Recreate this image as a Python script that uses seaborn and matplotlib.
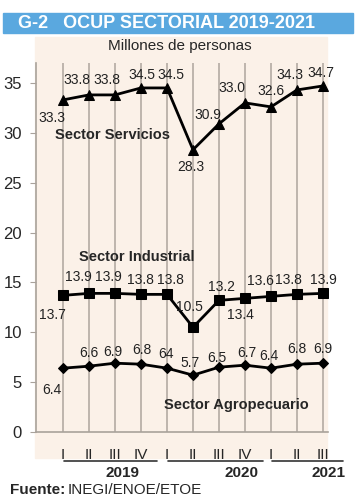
import matplotlib
matplotlib.use("Agg")
import matplotlib.pyplot as plt
import matplotlib.patches as mpatches
import matplotlib.transforms as mtransforms
from matplotlib import font_manager
import seaborn as sns
import pandas as pd

# data
quarters = ["I", "II", "III", "IV", "I", "II", "III", "IV", "I", "II", "III"]
years = ["2019", "2020", "2021"]
servicios = [33.3, 33.8, 33.8, 34.5, 34.5, 28.3, 30.9, 33.0, 32.6, 34.3, 34.7]
industrial = [13.7, 13.9, 13.9, 13.8, 13.8, 10.5, 13.2, 13.4, 13.6, 13.8, 13.9]
agropecuario = [6.4, 6.6, 6.9, 6.8, 6.4, 5.7, 6.5, 6.7, 6.4, 6.8, 6.9]
agro_labels = ["6.4", "6.6", "6.9", "6.8", "64", "5.7", "6.5", "6.7", "6.4", "6.8", "6.9"]

# label offsets in pixels
serv_off = [(-11, -18), (-12, 15), (-8, 15), (1, 13), (4, 13), (-2, -17),
            (-11, 9), (-13, 15), (0, 16), (-7, 15), (-2, 13)]
ind_off = [(-11, -20), (-11, 16), (-7, 16), (-1, 14), (3, 14), (-4, 20),
           (2, 13), (-5, -17), (-11, 15), (-9, 14), (0, 13)]
agro_off = [(-11, -22), (0, 13), (-2, 11), (1, 14), (-1, 14), (-3, 12),
            (-2, 9), (2, 12), (-2, 12), (0, 15), (0, 14)]

sns.set_style("white")
names = {f.name for f in font_manager.fontManager.ttflist}
fam = "Liberation Sans Narrow" if "Liberation Sans Narrow" in names else "Liberation Sans"
plt.rcParams["font.family"] = [fam, "DejaVu Sans"]

fig = plt.figure(figsize=(3.6, 5), dpi=100)
W, H = 360, 500

# beige panel and title bar
fig.patches.append(mpatches.Rectangle((35 / W, 1 - 458 / H), 292 / W, 421 / H,
                                      transform=fig.transFigure, color="#fbf1e8", zorder=0))
fig.patches.append(mpatches.Rectangle((3 / W, 1 - 33 / H), 350 / W, 20 / H,
                                      transform=fig.transFigure, color="#5aa8df", zorder=0))
fig.text(18 / W, 1 - 23 / H, "G-2   OCUP SECTORIAL 2019-2021", color="white",
         fontsize=13, fontweight="bold", va="center", ha="left")
fig.text(180 / W, 1 - 46 / H, "Millones de personas", fontsize=11, ha="center", va="center")

ax = fig.add_axes([36 / W, 1 - 432 / H, 292 / W, 369 / H])
ax.set_zorder(2)
ax.patch.set_alpha(0)

x = list(range(len(quarters)))
df = pd.DataFrame({"x": x, "serv": servicios, "ind": industrial, "agro": agropecuario})
sns.lineplot(data=df, x="x", y="serv", ax=ax, color="black", lw=2,
             marker="^", markersize=7, markeredgecolor="black", zorder=3)
sns.lineplot(data=df, x="x", y="ind", ax=ax, color="black", lw=2,
             marker="s", markersize=7, markeredgecolor="black", zorder=3)
sns.lineplot(data=df, x="x", y="agro", ax=ax, color="black", lw=2,
             marker="D", markersize=5.5, markeredgecolor="black", zorder=3)

for vals, labs, offs in [(servicios, [f"{v:.1f}" for v in servicios], serv_off),
                         (industrial, [f"{v:.1f}" for v in industrial], ind_off),
                         (agropecuario, agro_labels, agro_off)]:
    for xi, v, lab, off in zip(x, vals, labs, offs):
        ax.annotate(lab, (xi, v), xytext=off, textcoords="offset pixels",
                    ha="center", va="center", fontsize=10, color="#222222")

ax.text(1.92, 29.8, "Sector Servicios", fontsize=10.5, fontweight="bold", ha="center", va="center")
ax.text(2.85, 17.55, "Sector Industrial", fontsize=10.5, fontweight="bold", ha="center", va="center")
ax.text(6.65, 2.7, "Sector Agropecuario", fontsize=10.5, fontweight="bold", ha="center", va="center")

ax.set_xlim(-27 / 26, 265 / 26)
ax.set_ylim(0, 37)
ax.set_yticks([0, 5, 10, 15, 20, 25, 30, 35])
ax.set_xticks(x)
ax.set_xticklabels(quarters)
ax.set_xlabel("")
ax.set_ylabel("")
ax.grid(axis="x", color="#b3aba3", lw=1.2)
ax.grid(axis="y", visible=False)
for s in ["top", "right"]:
    ax.spines[s].set_visible(False)
for s in ["left", "bottom"]:
    ax.spines[s].set_color("#a9a29b")
    ax.spines[s].set_linewidth(1.2)
ax.tick_params(axis="y", left=True, length=4, color="#a9a29b", labelsize=12, pad=6)
ax.tick_params(axis="x", bottom=False, labelsize=11, pad=8)

trans = mtransforms.blended_transform_factory(ax.transData, ax.transAxes)
ends = [(0.05, 3.6), (4.05, 7.7), (8.05, 10.75)]
for a, b in ends:
    ax.plot([a, b], [-0.079, -0.079], transform=trans, color="#333333", lw=1.2, clip_on=False)
for yr, xc in zip(years, [2.27, 6.88, 10.2]):
    ax.text(xc, -0.11, yr, transform=trans, fontsize=11, fontweight="bold", ha="center", va="center")

t1 = fig.text(10 / W, 1 - 490 / H, "Fuente:", fontsize=11, fontweight="bold", va="center", ha="left")
fig.canvas.draw()
bb = t1.get_window_extent()
fig.text((bb.x1 + 2) / W, 1 - 490 / H, "INEGI/ENOE/ETOE", fontsize=11, va="center", ha="left")

fig.savefig("out.png", dpi=100)
